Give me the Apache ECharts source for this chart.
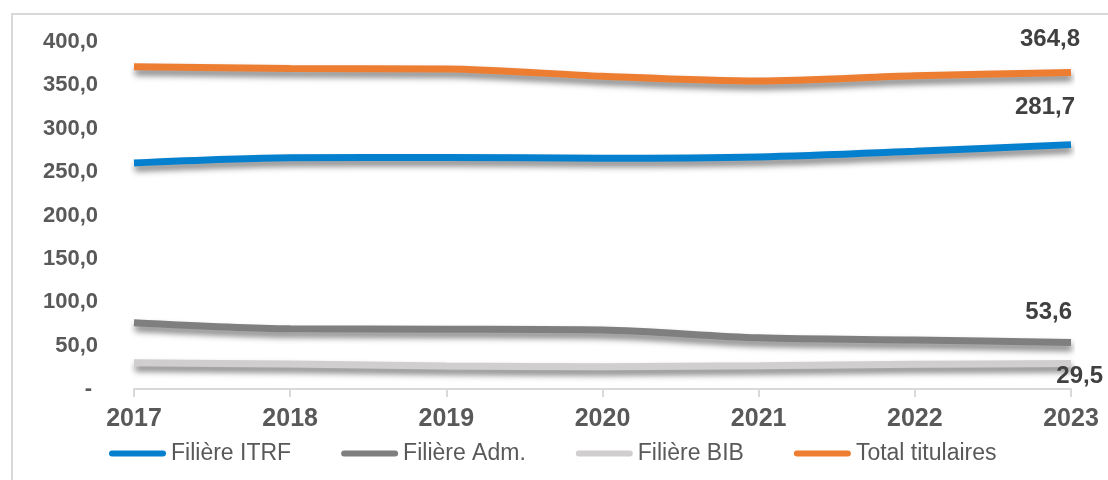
<!DOCTYPE html>
<html>
<head>
<meta charset="utf-8">
<script src="https://cdn.jsdelivr.net/npm/echarts@6/dist/echarts.min.js"></script>
<style>
  html, body { margin: 0; padding: 0; background: #ffffff; }
  #chart { width: 1108px; height: 480px; }
</style>
</head>
<body>
<div id="chart"></div>
<script>
// Effectifs titulaires par filière, 2017-2023
const years = ['2017', '2018', '2019', '2020', '2021', '2022', '2023'];
const itrf  = [260.5, 266.5, 267.0, 266.0, 267.5, 274.0, 281.7];
const adm   = [76.5, 69.5, 69.0, 68.0, 59.0, 56.5, 53.6];
const bib   = [30.3, 28.8, 26.5, 25.7, 26.8, 28.4, 29.5];
const total = [371.5, 369.5, 369.0, 360.5, 355.0, 361.0, 364.8];

const FONT = '"Liberation Sans", Arial, sans-serif';

// French decimal comma, one decimal
function fr(v) { return Number(v).toFixed(1).replace('.', ','); }

function lineSeries(name, data, color, labelOffset) {
  return {
    name: name,
    type: 'line',
    data: data,
    smooth: 0.3,
    showSymbol: false,
    symbol: 'none',
    color: color,
    lineStyle: {
      color: color,
      width: 7,
      cap: 'butt',
      shadowColor: 'rgba(0,0,0,0.5)',
      shadowBlur: 6,
      shadowOffsetX: 1,
      shadowOffsetY: 5
    },
    endLabel: {
      show: true,
      distance: 0,
      align: 'right',
      verticalAlign: 'middle',
      offset: labelOffset,
      formatter: function (p) { return fr(p.value); },
      fontFamily: FONT,
      fontSize: 24,
      fontWeight: 'bold',
      color: '#404040'
    },
    emphasis: { disabled: true },
    z: 2
  };
}

const chart = echarts.init(document.getElementById('chart'), null, { renderer: 'canvas' });

chart.setOption({
  animation: false,
  backgroundColor: '#ffffff',
  textStyle: { fontFamily: FONT },
  graphic: [{
    type: 'rect',
    shape: { x: 12, y: 14, width: 1120, height: 500 },
    style: { fill: 'none', stroke: '#d9d9d9', lineWidth: 2 },
    silent: true,
    z: -10
  }],
  grid: { left: 134, right: 37, top: 42, bottom: 91, containLabel: false },
  legend: {
    left: 104,
    top: 437,
    icon: 'path://M3,0 H54 A3,3 0 0 1 54,6 H3 A3,3 0 0 1 3,0 Z',
    itemWidth: 57,
    itemHeight: 6,
    itemGap: 50,
    selectedMode: false,
    textStyle: { fontFamily: FONT, fontSize: 23, color: '#595959' }
  },
  xAxis: {
    type: 'category',
    data: years,
    boundaryGap: false,
    axisLine: { lineStyle: { color: '#d9d9d9', width: 2 } },
    axisTick: { show: true, length: 8, lineStyle: { color: '#d9d9d9', width: 2 } },
    axisLabel: { margin: 18, fontFamily: FONT, fontSize: 25, fontWeight: 'bold', color: '#595959' },
    splitLine: { show: false }
  },
  yAxis: {
    type: 'value',
    min: 0,
    max: 400,
    interval: 50,
    axisLine: { show: false },
    axisTick: { show: false },
    splitLine: { show: false },
    axisLabel: {
      margin: 36,
      fontFamily: FONT,
      fontSize: 22,
      fontWeight: 'bold',
      color: '#595959',
      formatter: function (v) { return v === 0 ? '{d|-}' : fr(v); },
      rich: { d: { fontFamily: FONT, fontSize: 22, fontWeight: 'bold', color: '#595959', padding: [0, 6, 0, 0] } }
    }
  },
  series: [
    lineSeries('Filière ITRF', itrf, '#0580CE', [4, -37]),
    lineSeries('Filière Adm.', adm, '#7f7f7f', [1, -30]),
    lineSeries('Filière BIB', bib, '#d0cece', [32, 13]),
    lineSeries('Total titulaires', total, '#ed7d31', [9, -33])
  ]
});
</script>
</body>
</html>
